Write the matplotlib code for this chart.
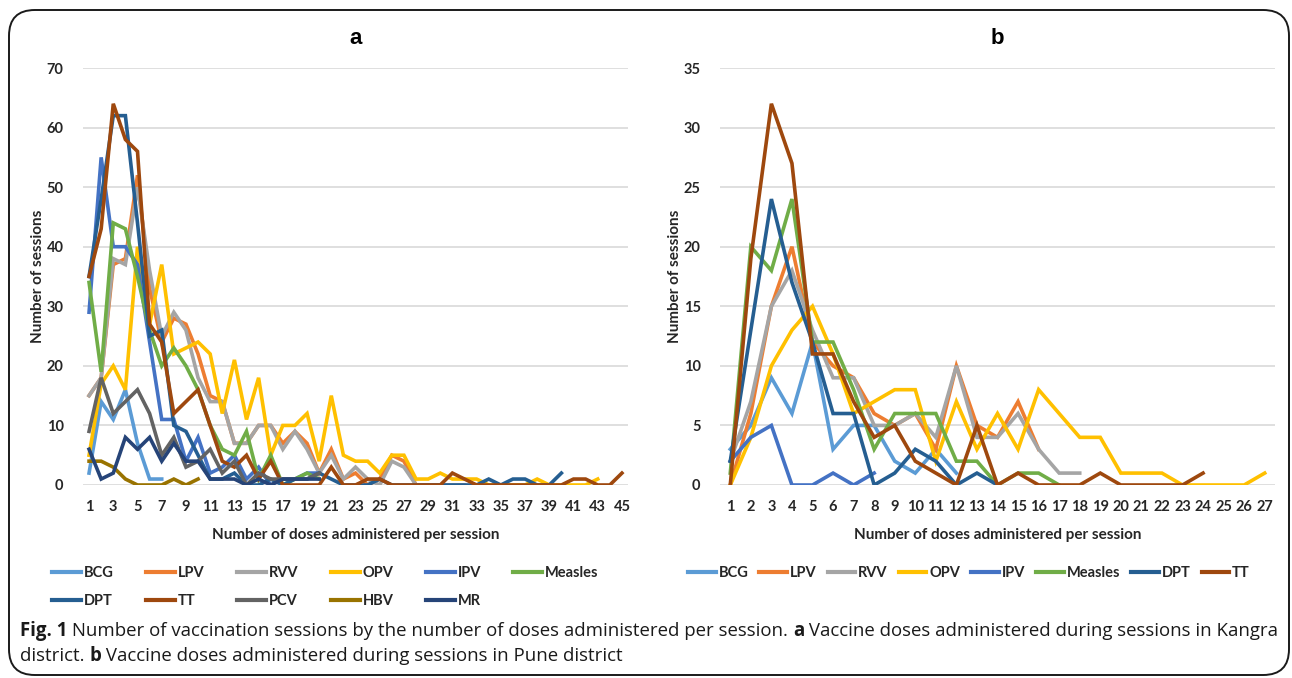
import matplotlib
matplotlib.use("Agg")
import matplotlib.pyplot as plt
from matplotlib.patches import FancyBboxPatch

# --- data: panel a (Kangra), sessions per number of doses 1..45
BCG_a = [2, 14, 11, 16, 7, 1, 1]
LPV_a = [15, 18, 37, 38, 52, 33, 24, 28, 27, 22, 15, 14, 7, 7, 10, 10, 7, 9, 7, 2,
         6, 1, 2, 0, 1, 5, 4, 0, 0, 0]
RVV_a = [15, 18, 38, 37, 50, 36, 25, 29, 26, 18, 14, 14, 7, 7, 10, 10, 6, 9, 6, 2,
         5, 1, 3, 1, 0, 4, 3, 0, 0, 0, 0, 0]
OPV_a = [5, 17, 20, 16, 40, 27, 37, 22, 23, 24, 22, 12, 21, 11, 18, 5, 10, 10, 12, 4,
         15, 5, 4, 4, 2, 5, 5, 1, 1, 2, 1, 1, 1, 0, 0, 0, 0, 1, 0, 0, 0, 0, 1]
IPV_a = [29, 55, 40, 40, 37, 24, 11, 11, 4, 8, 2, 3, 5, 1, 3, 0, 1, 1, 2, 2]
Measles_a = [34, 19, 44, 43, 35, 26, 20, 23, 20, 16, 10, 6, 5, 9, 1, 5, 0, 1, 2, 1]
DPT_a = [35, 48, 62, 62, 44, 25, 26, 10, 9, 5, 1, 1, 2, 0, 0, 1, 0, 1, 1, 2,
         1, 0, 0, 0, 1, 0, 0, 0, 0, 0, 0, 0, 0, 1, 0, 1, 1, 0, 0, 2]
TT_a = [35, 43, 64, 58, 56, 27, 24, 12, 14, 16, 10, 4, 3, 5, 1, 4, 0, 0, 0, 0,
        3, 0, 0, 1, 1, 0, 0, 0, 0, 0, 2, 1, 0, 0, 0, 0, 0, 0, 0, 0, 1, 1, 0, 0, 2]
PCV_a = [9, 18, 12, 14, 16, 12, 5, 8, 3, 4, 6, 2, 4, 0, 2, 1, 1, 1, 1, 2]
HBV_a = [4, 4, 3, 1, 0, 0, 0, 1, 0, 1]
MR_a = [6, 1, 2, 8, 6, 8, 4, 7, 4, 4, 1, 1, 1, 0, 1, 0, 1, 1, 1, 1]

# --- data: panel b (Pune), doses 1..27
BCG_b = [3, 5, 9, 6, 12, 3, 5, 5, 2, 1, 3, 1]
LPV_b = [0, 6, 15, 20, 12, 10, 9, 6, 5, 6, 3, 10, 5, 4, 7, 3]
RVV_b = [2, 7, 15, 18, 13, 9, 9, 5, 5, 6, 4, 10, 4, 4, 6, 3, 1, 1]
OPV_b = [0, 4, 10, 13, 15, 11, 6, 7, 8, 8, 2, 7, 3, 6, 3, 8, 6, 4, 4, 1, 1, 1, 0, 0, 0, 0, 1]
IPV_b = [2, 4, 5, 0, 0, 1, 0, 1]
Measles_b = [1, 20, 18, 24, 12, 12, 8, 3, 6, 6, 6, 2, 2, 0, 1, 1, 0]
DPT_b = [2, 13, 24, 17, 12, 6, 6, 0, 1, 3, 2, 0, 1, 0]
TT_b = [0, 19, 32, 27, 11, 11, 7, 4, 5, 2, 1, 0, 5, 0, 1, 0, 0, 0, 1, 0, 0, 0, 0, 1]

colors = {'BCG': '#5B9BD5', 'LPV': '#ED7D31', 'RVV': '#A5A5A5', 'OPV': '#FFC000',
          'IPV': '#4472C4', 'Measles': '#70AD47', 'DPT': '#255E91', 'TT': '#9E480E',
          'PCV': '#636363', 'HBV': '#997300', 'MR': '#264478'}

series_a = [('BCG', BCG_a), ('LPV', LPV_a), ('RVV', RVV_a), ('OPV', OPV_a), ('IPV', IPV_a),
            ('Measles', Measles_a), ('DPT', DPT_a), ('TT', TT_a), ('PCV', PCV_a),
            ('HBV', HBV_a), ('MR', MR_a)]
series_b = [('BCG', BCG_b), ('LPV', LPV_b), ('RVV', RVV_b), ('OPV', OPV_b), ('IPV', IPV_b),
            ('Measles', Measles_b), ('DPT', DPT_b), ('TT', TT_b)]

FONT = 'Lato'
W, H = 1292, 678
fig = plt.figure(figsize=(W / 100, H / 100), dpi=100)


def px(x0, y0, x1, y1):
    # pixel box -> figure fraction rect
    return [x0 / W, 1 - y1 / H, (x1 - x0) / W, (y1 - y0) / H]


def draw_panel(ax, series, ncat, ymax, ystep, tick_every, title):
    for name, vals in series:
        ax.plot(range(1, len(vals) + 1), vals, color=colors[name], lw=2.6,
                label=name, solid_joinstyle='miter')
    ax.set_xlim(0.5, ncat + 0.5)
    ax.set_ylim(0, ymax)
    ax.set_yticks(range(0, ymax + 1, ystep))
    ax.set_xticks(range(1, ncat + 1, tick_every))
    ax.yaxis.grid(True, color='#D9D9D9', lw=1.2)
    ax.set_axisbelow(True)
    for s in ax.spines.values():
        s.set_visible(False)
    ax.tick_params(axis='x', length=0, pad=11)
    ax.tick_params(axis='y', length=0, pad=14)
    for lab in ax.get_xticklabels() + ax.get_yticklabels():
        lab.set_fontfamily(FONT)
        lab.set_fontweight('bold')
        lab.set_fontsize(10.5)
        lab.set_color('#262626')
    ax.set_xlabel('Number of doses administered per session', fontfamily=FONT,
                  fontweight='bold', fontsize=11, color='#262626', labelpad=10)
    ax.set_ylabel('Number of sessions', fontfamily=FONT, fontweight='bold',
                  fontsize=11, color='#262626', labelpad=1)
    ax.set_title(title, fontfamily='Liberation Sans', fontweight='bold', fontsize=16, pad=17)


ax1 = fig.add_axes(px(83, 68, 628, 485))
draw_panel(ax1, series_a, 45, 70, 10, 2, 'a')
ax2 = fig.add_axes(px(720, 68, 1275, 485))
draw_panel(ax2, series_b, 27, 35, 5, 1, 'b')

# legend a: two rows, row-major like Excel
h, l = ax1.get_legend_handles_labels()
order = [0, 6, 1, 7, 2, 8, 3, 9, 4, 10, 5]
leg1 = ax1.legend([h[i] for i in order], [l[i] for i in order], ncol=6,
                  loc='upper left', bbox_to_anchor=(52 / W, 1 - 566 / H),
                  bbox_transform=fig.transFigure, frameon=False,
                  prop={'family': FONT, 'weight': 'bold', 'size': 10.5},
                  handlelength=2.0, handletextpad=0.2, columnspacing=2.2,
                  labelspacing=0.95, borderpad=0, borderaxespad=0)
leg2 = ax2.legend(ncol=8, loc='upper center', bbox_to_anchor=(969 / W, 1 - 566 / H),
                  bbox_transform=fig.transFigure, frameon=False,
                  prop={'family': FONT, 'weight': 'bold', 'size': 10.5},
                  handlelength=1.9, handletextpad=0.2, columnspacing=0.75,
                  borderpad=0, borderaxespad=0)
for leg in (leg1, leg2):
    for ln in leg.get_lines():
        ln.set_linewidth(3)
    for t in leg.get_texts():
        t.set_color('#262626')

# rounded frame around the figure
frame = FancyBboxPatch((9 / W, 3 / H), 1280 / W, 665 / H,
                       boxstyle='round,pad=0,rounding_size=0.02',
                       transform=fig.transFigure, fill=False, ec='#1a1a1a', lw=1.4,
                       mutation_aspect=W / H)
fig.add_artist(frame)

# caption with bold runs
cap_font = 'Open Sans'
cap_size = 13.4
lines = [
    [('Fig. 1', 'bold'), (' Number of vaccination sessions by the number of doses administered per session. ', 'normal'),
     ('a', 'bold'), (' Vaccine doses administered during sessions in Kangra', 'normal')],
    [('district. ', 'normal'), ('b', 'bold'), (' Vaccine doses administered during sessions in Pune district', 'normal')],
]
fig.canvas.draw()
renderer = fig.canvas.get_renderer()
for i, parts in enumerate(lines):
    x = 20
    y = 631 + i * 25
    for txt, wt in parts:
        t = fig.text(x / W, 1 - y / H, txt, fontfamily=cap_font, fontweight=wt,
                     fontsize=cap_size, va='center', ha='left', color='#1a1a1a')
        bb = t.get_window_extent(renderer)
        x += bb.width

fig.savefig('out.png', dpi=100)
